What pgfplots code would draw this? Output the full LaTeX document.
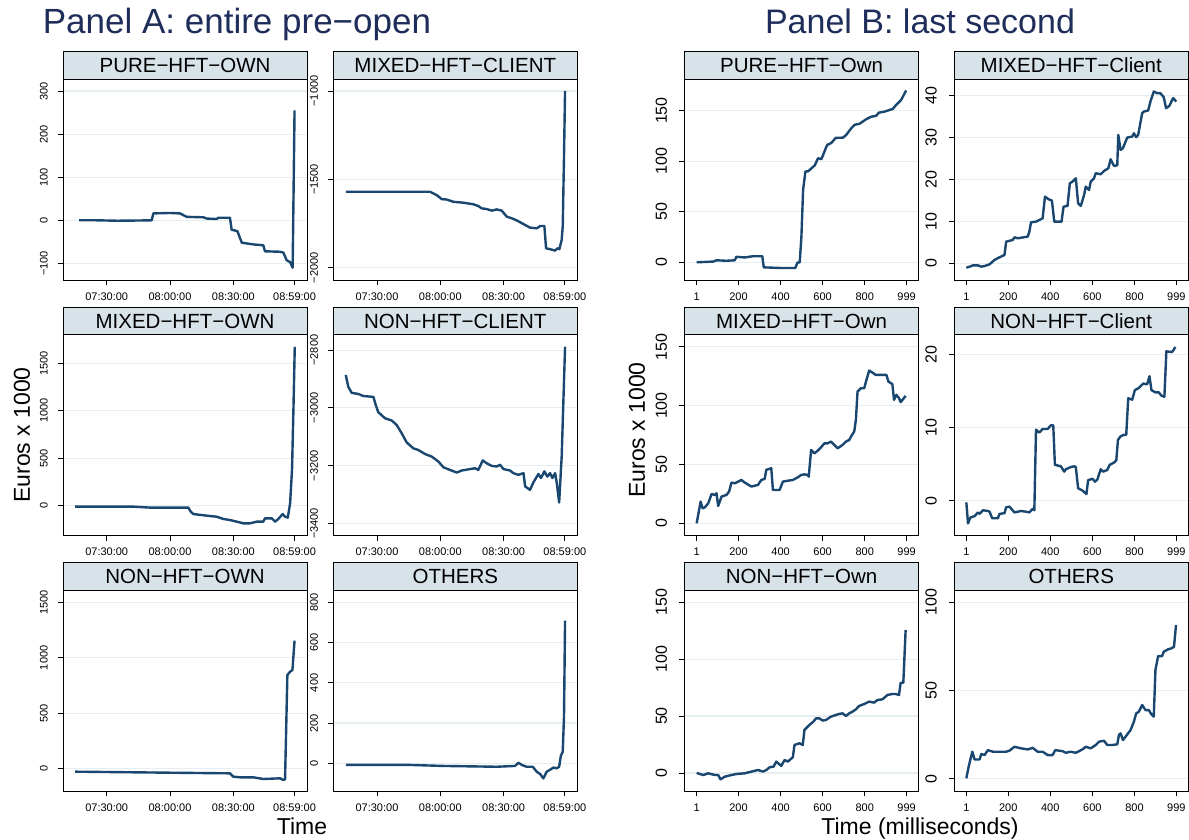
\documentclass[border=0pt]{standalone}
\usepackage{pgfplots}
\pgfplotsset{compat=1.18}
\usepackage{fontspec}
\setmainfont{Liberation Sans}

\definecolor{navy}{RGB}{26,71,111}
\definecolor{stripcol}{RGB}{216,227,233}
\definecolor{gridcol}{RGB}{230,238,241}
\definecolor{ttlcol}{RGB}{30,45,90}

\pgfplotsset{
  base/.style={
    scale only axis, height=201pt,
    axis line style={line width=0.9pt},
    tick pos=left, tick align=outside, major tick length=5pt,
    every tick/.style={black, line width=0.9pt},
    ymajorgrids, major grid style={gridcol, line width=1.2pt},
    every axis title/.style={at={(0.5,1)}, anchor=south, draw=black, line width=0.9pt,
      fill=stripcol, outer sep=0pt, inner sep=0pt, minimum height=27.5pt,
      font=\fontsize{20.5}{22}\selectfont},
    yticklabel style={rotate=90, anchor=south, inner sep=0pt},
    xticklabel style={anchor=north, inner sep=0pt},
    every axis plot post/.style={navy, line width=2.4pt, line join=round, mark=none},
  },
  % panel A: minutes after 07:00
  pa/.style={base, width=244pt, xmin=9.3, xmax=124.9,
    xtick={30,60,90,119}, xticklabels={07:30:00,08:00:00,08:30:00,08:59:00},
    title style={minimum width=244pt},
    ticklabel style={font=\fontsize{11}{12}\selectfont},
    yticklabel shift=10pt, xticklabel shift=7pt},
  % panel B: milliseconds
  pb/.style={base, width=234.5pt, xmin=-57.7, xmax=1057,
    xtick={1,200,400,600,800,999}, xticklabels={1,200,400,600,800,999},
    title style={minimum width=234.5pt},
    xticklabel style={font=\fontsize{11}{12}\selectfont},
    yticklabel style={font=\fontsize{16}{17}\selectfont},
    yticklabel shift=12pt, xticklabel shift=7pt},
}

\begin{document}
\begin{tikzpicture}
\path[use as bounding box] (0pt,0pt) rectangle (1189pt,840pt);

% ---------- Panel A ----------
\begin{axis}[pa, at={(63pt,559.7pt)}, anchor=south west, title={PURE−HFT−OWN},
  ymin=-139.3, ymax=327.4, ytick={-100,0,100,200,300}, yticklabels={−100,0,100,200,300}]
\addplot coordinates {(16.9,0)(25,0)(35,-1)(45,-0.5)(51.3,0)(52.1,16)(60,17)(64.7,16)(67.9,8)(75.8,7)(77.4,4)(82.1,3)(82.9,6)(88.4,6)(89.2,-22)(91.9,-25)(94.0,-52)(99.5,-56)(104.2,-58)(105,-72)(112.1,-73)(113.7,-75)(115.3,-93)(116.9,-97)(118.1,-110)(119,255)};
\end{axis}

\begin{axis}[pa, at={(333.3pt,559.7pt)}, anchor=south west, title={MIXED−HFT−CLIENT},
  ymin=-2071, ymax=-933.8, ytick={-2000,-1500,-1000}, yticklabels={−2000,−1500,−1000}]
\addplot coordinates {(15.2,-1570)(55.1,-1570)(58.3,-1589)(60.7,-1612)(63.0,-1614)(66.2,-1627)(70.9,-1632)(75.7,-1641)(78.0,-1651)(79.6,-1664)(82.0,-1668)(84.4,-1677)(86.7,-1670)(89.1,-1677)(91.5,-1711)(93.8,-1720)(96.2,-1732)(99.4,-1753)(102.5,-1773)(105.7,-1777)(107.3,-1764)(109.3,-1764)(110.1,-1890)(112.0,-1895)(114.4,-1903)(115.5,-1890)(116.4,-1895)(117.5,-1842)(118.0,-1766)(118.6,-1370)(119.1,-1000)};
\end{axis}

\begin{axis}[pa, at={(63pt,304.2pt)}, anchor=south west, title={MIXED−HFT−OWN},
  ymin=-317, ymax=1800, ytick={0,500,1000,1500}, yticklabels={0,500,1000,1500}]
\addplot coordinates {(15,-10)(42.6,-10)(50.5,-20)(68.7,-20)(69.8,-63)(71.1,-88)(77.4,-105)(82.1,-116)(85.3,-140)(88.4,-151)(91.6,-168)(94.8,-186)(97.9,-186)(101.1,-168)(104.2,-168)(105,-133)(108.2,-133)(109.8,-168)(111.3,-140)(113.4,-88)(114.5,-116)(115.8,-126)(116.9,25)(117.8,376)(118.5,1043)(119.1,1674)};
\end{axis}

\begin{axis}[pa, at={(333.3pt,304.2pt)}, anchor=south west, title={NON−HFT−CLIENT},
  ymin=-3443, ymax=-2747, ytick={-3400,-3200,-3000,-2800}, yticklabels={−3400,−3200,−3000,−2800}]
\addplot coordinates {(15.2,-2886)(16.4,-2927)(18.0,-2948)(21.2,-2952)(23.5,-2959)(28.3,-2962)(29.4,-2990)(30.6,-3015)(33.8,-3036)(37.0,-3044)(39.3,-3059)(41.7,-3088)(44.1,-3120)(47.2,-3140)(49.6,-3146)(52.8,-3160)(56.0,-3169)(59.1,-3186)(61.5,-3206)(64.6,-3215)(67.8,-3224)(70.1,-3217)(74.1,-3212)(76.5,-3209)(78.0,-3215)(80.1,-3182)(82.0,-3192)(84.4,-3201)(86.7,-3203)(88.3,-3197)(89.9,-3212)(93.0,-3217)(94.6,-3226)(97.0,-3232)(99.4,-3226)(100.2,-3272)(102.5,-3284)(104.1,-3258)(106.5,-3229)(107.7,-3243)(109.3,-3220)(110.7,-3238)(112.0,-3226)(113.1,-3243)(114.4,-3226)(115.2,-3261)(116.3,-3328)(117.5,-3169)(119.1,-2788)};
\end{axis}

\begin{axis}[pa, at={(63pt,48.7pt)}, anchor=south west, title={NON−HFT−OWN},
  ymin=-204, ymax=1609, ytick={0,500,1000,1500}, yticklabels={0,500,1000,1500}]
\addplot coordinates {(15,-27)(58.4,-36)(88.4,-42)(90,-72)(93.2,-78)(99.5,-78)(104.2,-93)(112.1,-87)(113.7,-102)(114.5,-96)(115.6,845)(116.9,875)(118,890)(119,1155)};
\end{axis}

\begin{axis}[pa, at={(333.3pt,48.7pt)}, anchor=south west, title={OTHERS},
  ymin=-139, ymax=860, ytick={0,200,400,600,800}, yticklabels={0,200,400,600,800}]
\addplot coordinates {(15.2,-8)(45.7,-8)(61.5,-13)(86.7,-17)(95.4,-13)(97.0,3)(98.6,-8)(100.9,-17)(103.8,-17)(105.7,-42)(107.3,-53)(108.8,-75)(110.4,-42)(112.3,-30)(113.6,-21)(115.2,-25)(116.3,-17)(117.1,37)(118.0,58)(118.6,232)(119.1,709)};
\end{axis}

% ---------- Panel B ----------
\begin{axis}[pb, at={(684.3pt,559.7pt)}, anchor=south west, title={PURE−HFT−Own},
  ymin=-17.8, ymax=181, ytick={0,50,100,150}, yticklabels={0,50,100,150}]
\addplot coordinates {(1,0)(79.6,0.7)(95.4,2)(142.7,1.5)(182,2)(190,5.4)(230,4.8)(269,6)(313,6)(320,-5)(396,-5.6)(470,-5.6)(480,-0.3)(491,0)(499,25.5)(507,71.7)(518,89.8)(531,90)(547,93)(563,96)(578,103)(594,102)(621,116)(641,118)(662,123)(697,123.3)(712,126)(736,132.6)(752,136)(775,137)(807,141.5)(831,144)(854,144.8)(867,148)(894,149)(933,151.7)(949,155.6)(973,160.6)(997,170)};
\end{axis}

\begin{axis}[pb, at={(954pt,559.7pt)}, anchor=south west, title={MIXED−HFT−Client},
  ymin=-4.06, ymax=43.9, ytick={0,10,20,30,40}, yticklabels={0,10,20,30,40}]
\addplot coordinates {(1,-1.04)(16.7,-0.81)(32.4,-0.49)(56.1,-0.49)(71.9,-0.81)(87.6,-0.65)(111.3,-0.25)(135,0.8)(158.6,1.43)(182.3,1.98)(190.1,5.16)(221.7,5.56)(229.6,6.2)(245.3,5.96)(292.6,6.36)(300.5,7.55)(308.4,9.78)(332.1,9.94)(363.6,10.73)(374.7,15.9)(392,15.27)(407.8,14.95)(418.8,9.94)(453.5,9.94)(463,13.52)(481.9,13.68)(493,19.09)(505.5,19.49)(521.3,20.28)(532.3,14.31)(545,13.68)(560.7,16.3)(568.6,18.3)(584.4,17.5)(592.3,19.49)(608,20.28)(615.9,21.48)(639.6,21.24)(655.4,22.03)(675.9,22.67)(686.9,24.82)(702.7,23.23)(718.4,23.39)(723.2,30.63)(734.2,27.05)(745.2,27.45)(765.8,30.0)(789.4,30.23)(797.3,31.03)(808.3,30.07)(817.8,30.63)(836.7,35.81)(844.6,36.2)(865.1,36.44)(876.1,38.59)(891.9,40.98)(907.7,40.58)(923.4,40.58)(939.2,39.63)(950.3,37.0)(966,37.56)(983.4,39.39)(999,38.59)};
\end{axis}

\begin{axis}[pb, at={(684.3pt,304.2pt)}, anchor=south west, title={MIXED−HFT−Own},
  ymin=-10.6, ymax=160.1, ytick={0,50,100,150}, yticklabels={0,50,100,150}]
\addplot coordinates {(1,0)(19.8,18.4)(29.3,12.7)(40.3,13.6)(56.1,17)(71.9,24.9)(87.6,24.1)(95.5,25.5)(103.4,14.7)(119.2,22.7)(142.8,24.1)(155.4,27)(166.5,34.6)(182.3,34)(213.8,36.8)(229.6,34.6)(261.1,31.2)(292.6,32.6)(308.4,36.8)(324.2,37.7)(332.1,45.4)(355.7,46.8)(363.6,28.3)(395.2,28.3)(410.9,35.4)(434.6,36.2)(458.2,36.8)(481.9,39.1)(497.7,41)(513.4,41.6)(529.2,41)(533.9,39.6)(545,62.3)(560.7,59.4)(576.5,61.7)(592.3,64.5)(608,67.9)(623.8,67.9)(639.6,69.4)(655.4,66.6)(671.1,63.7)(694.8,66.6)(710.6,69.4)(726.3,70.8)(734.2,73.6)(750,77.9)(757.9,87.8)(765.8,111.9)(781.5,114.7)(797.3,114.7)(808.3,121.8)(821,129.7)(836.7,128)(852.5,126)(884,126)(903,126)(912.4,120.4)(931.3,118.2)(939.2,104.8)(950.3,109.1)(962.9,106.3)(970.8,102.9)(994.4,108.2)};
\end{axis}

\begin{axis}[pb, at={(954pt,304.2pt)}, anchor=south west, title={NON−HFT−Client},
  ymin=-4.79, ymax=22.66, ytick={0,10,20}, yticklabels={0,10,20}]
\addplot coordinates {(1,-0.23)(8.8,-3.1)(19.8,-2.3)(40.3,-2.1)(56.1,-1.6)(64,-1.8)(79.8,-1.3)(103.4,-1.4)(111.3,-1.5)(123.9,-2.4)(150.7,-2.4)(158.6,-1.8)(182.3,-1.7)(190.1,-0.9)(205.9,-0.8)(229.6,-1.6)(261.1,-1.4)(284.8,-1.5)(300.5,-1.6)(316.3,-1.1)(324.2,-1.3)(332.1,9.7)(347.8,9.3)(363.6,9.8)(387.3,9.8)(403,10.3)(414.1,10.3)(421.9,4.9)(450.3,4.7)(466.1,3.97)(474,4.3)(497.7,4.6)(513.4,4.7)(521.3,4.6)(532.3,1.7)(552.9,1.4)(571.8,0.9)(579.7,2.8)(600.2,3.0)(612.8,2.6)(623.8,2.9)(639.6,4.3)(650.6,3.97)(671.1,4.2)(682.2,4.9)(702.7,5.2)(713.7,5.5)(721.6,8.3)(734.2,8.8)(750,9.0)(761,9.0)(770.5,14.0)(789.4,13.8)(802,15.1)(821,15.4)(841.5,16.0)(860.4,15.9)(871.4,17.0)(880.9,15.1)(899.8,14.8)(915.6,14.8)(928.2,14.35)(942.4,14.2)(951.8,20.4)(978.6,20.3)(986.5,20.6)(994.4,21.0)};
\end{axis}

\begin{axis}[pb, at={(684.3pt,48.7pt)}, anchor=south west, title={NON−HFT−Own},
  ymin=-16.1, ymax=160.5, ytick={0,50,100,150}, yticklabels={0,50,100,150}]
\addplot coordinates {(1,0)(16.7,-0.9)(32.4,-1.8)(56.1,-0.3)(87.6,-1.8)(103.4,-1.8)(114.4,-5.6)(135,-3.2)(166.5,-1.8)(190.1,-0.9)(229.6,-0.3)(261.1,1.2)(292.6,2.6)(316.3,1.2)(332.1,2.6)(347.8,5)(366.8,5.6)(379.4,10)(403,6.2)(418.8,11.4)(434.6,10)(458.2,13.8)(466.1,24.6)(489.8,26.1)(505.5,24.6)(513.4,37.8)(537.1,42.2)(556,45.1)(568.6,48)(584.4,48)(600.2,46)(615.9,46.6)(639.6,49.5)(663.2,51)(679,51.9)(694.8,52.4)(710.6,50.1)(726.3,52.4)(742.1,53.9)(757.9,55.9)(773.6,58.9)(797.3,60.6)(821,62.7)(844.6,61.8)(860.4,64.1)(884,64.7)(907.7,68.5)(931.3,69.4)(947.1,69.4)(962.9,68.5)(970.8,79.3)(983.4,79.3)(994.4,125.6)};
\end{axis}

\begin{axis}[pb, at={(954pt,48.7pt)}, anchor=south west, title={OTHERS},
  ymin=-7.14, ymax=106.8, ytick={0,50,100}, yticklabels={0,50,100}]
\addplot coordinates {(1,0.2)(11.9,6.8)(29.3,15.3)(40.3,10.9)(64,10.9)(71.9,14)(87.6,13.4)(103.4,16.2)(127.1,15.3)(190.1,15.3)(205.9,15.9)(229.6,18.1)(261.1,17.2)(292.6,16.6)(316.3,17.5)(339.9,15.3)(363.6,15.3)(387.3,13.4)(410.9,13.4)(423.5,16.2)(458.2,15.6)(474,14.7)(497.7,15.3)(521.3,14.7)(552.9,16.6)(568.6,18.1)(592.3,17.2)(615.9,19.1)(631.7,21)(655.4,21.5)(671.1,19.1)(694.8,19.1)(718.4,19.5)(726.3,24.8)(734.2,25.7)(745.2,21.9)(757.9,23.8)(781.5,27.6)(797.3,32.3)(808.3,37)(821,38)(836.7,41.8)(852.5,38.9)(868.3,38.9)(879.3,36.7)(891.9,35.2)(899.8,61.6)(912.4,69.5)(931.3,69.5)(939.2,72)(959.7,73.3)(975.5,73.9)(988.1,74.8)(997.6,87.1)};
\end{axis}

% ---------- titles and axis labels ----------
\node[font=\fontsize{35}{37}\selectfont, color=ttlcol, anchor=base] at (237pt,806pt) {Panel A: entire pre−open};
\node[font=\fontsize{34}{36}\selectfont, color=ttlcol, anchor=base] at (920pt,806pt) {Panel B: last second};
\node[font=\fontsize{23}{24}\selectfont, rotate=90] at (22pt,405pt) {Euros x 1000};
\node[font=\fontsize{23}{24}\selectfont, rotate=90] at (637pt,410pt) {Euros x 1000};
\node[font=\fontsize{23}{24}\selectfont, anchor=base] at (302pt,5pt) {Time};
\node[font=\fontsize{23}{24}\selectfont, anchor=base] at (920pt,5pt) {Time (milliseconds)};
\end{tikzpicture}
\end{document}
